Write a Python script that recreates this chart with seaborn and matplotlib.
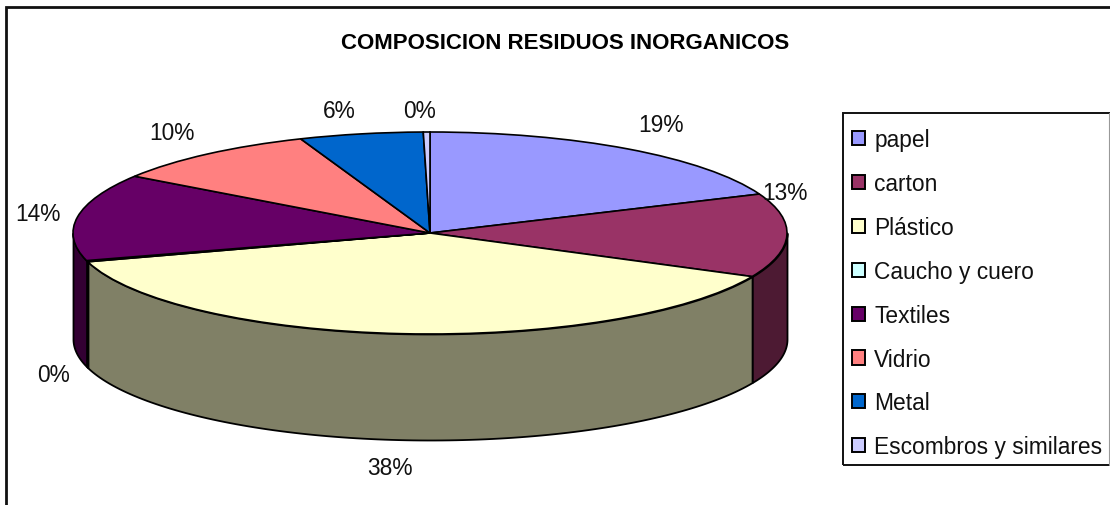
import numpy as np
import matplotlib
matplotlib.use("Agg")
import matplotlib.pyplot as plt
from matplotlib.lines import Line2D
from matplotlib.patches import Rectangle
import seaborn as sns

categories = ['papel', 'carton', 'Plástico', 'Caucho y cuero', 'Textiles',
              'Vidrio', 'Metal', 'Escombros y similares']
shares = [18.7, 13.4, 38.3, 0.2, 13.9, 9.6, 5.6, 0.3]
hex_colors = ['#9999FF', '#993366', '#FFFFCC', '#CCFFFF', '#660066',
              '#FF8080', '#0066CC', '#CCCCFF']
title = 'COMPOSICION RESIDUOS INORGANICOS'

sns.set_theme(style='white')
plt.rcParams['font.family'] = ['Liberation Sans', 'DejaVu Sans']
colors = sns.color_palette(hex_colors)

W, H = 1110, 506
fig = plt.figure(figsize=(W / 100, H / 100), dpi=100, facecolor='white')


def fx(px):
    return px / W


def fy(py):
    return 1 - py / H


# outer frame, right and bottom edges are cut off by the image
fig.add_artist(Rectangle((fx(6), fy(520)), 1120 / W, 512 / H, transform=fig.transFigure,
                         fill=False, edgecolor='#111111', lw=2.0))

# pie top ellipse spans x 73-787, y 133-335, side wall goes down to 441
rim = 101
depth = 106 / rim
ax = fig.add_axes([fx(73), fy(441), 714 / W, 308 / H])
ax.pie(shares, colors=colors, startangle=90, counterclock=False, radius=1,
       wedgeprops={'edgecolor': 'black', 'linewidth': 1.2, 'zorder': 3})
ax.set_aspect('auto')
ax.set_xlim(-1, 1)
ax.set_ylim(1 - 308 / rim, 1)
ax.axis('off')

# side wall, only the front half of the cylinder shows
edges = np.cumsum([0] + shares) / sum(shares) * 360
for i in range(len(shares)):
    a0 = max(edges[i], 90)
    a1 = min(edges[i + 1], 270)
    if a1 <= a0:
        continue
    t = np.radians(np.linspace(a0, a1, 120))
    x = np.sin(t)
    y = np.cos(t)
    ax.fill_between(x, y, y - depth, facecolor=np.array(colors[i]) * 0.5,
                    edgecolor='black', linewidth=1.3, zorder=2, clip_on=False)

# percent labels
label_pos = [(661, 125), (785, 194), (390, 469), (54, 376), (38, 215), (172, 134), (339, 111), (420, 111)]
for (px, py), v in zip(label_pos, shares):
    fig.text(fx(px), fy(py), f'{v:.0f}%', ha='center', va='center', fontsize=16.4, color='#111111')

fig.text(fx(565.5), fy(44), title, ha='center', va='center', fontsize=16,
         fontweight='bold', color='black')

# legend box
fig.add_artist(Rectangle((fx(843), fy(466)), 280 / W, 352 / H, transform=fig.transFigure,
                         fill=False, edgecolor='#111111', lw=1.4))
fig.add_artist(Line2D([fx(1109), fx(1109)], [fy(114), fy(466)], transform=fig.transFigure,
                      color='#999999', lw=0.8))

handles = [Rectangle((0, 0), 1, 1, facecolor=c, edgecolor='black', lw=1.4) for c in colors]
leg = fig.legend(handles, categories, loc='upper left', bbox_to_anchor=(fx(852), fy(129)),
                 bbox_transform=fig.transFigure, frameon=False, fontsize=16.4,
                 handlelength=0.57, handleheight=0.57, handletextpad=0.4,
                 labelspacing=0.918, borderpad=0, borderaxespad=0, labelcolor='#111111')

fig.savefig('out.png', dpi=100)
